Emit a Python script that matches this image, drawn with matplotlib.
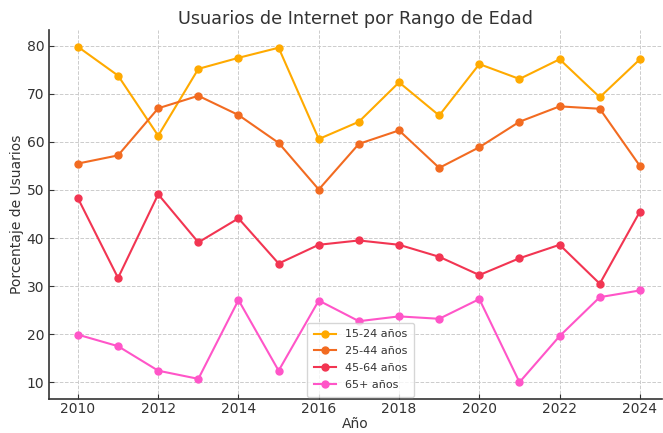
import matplotlib
matplotlib.use("Agg")
import matplotlib.pyplot as plt

years = list(range(2010, 2025))
g15_24 = [79.8, 73.8, 61.3, 75.2, 77.5, 79.6, 60.6, 64.2, 72.4, 65.5, 76.2, 73.1, 77.2, 69.3, 77.2]
g25_44 = [55.5, 57.2, 67.0, 69.6, 65.6, 59.8, 50.1, 59.6, 62.4, 54.6, 58.9, 64.2, 67.4, 66.9, 55.0]
g45_64 = [48.3, 31.7, 49.1, 39.1, 44.1, 34.7, 38.6, 39.5, 38.6, 36.1, 32.3, 35.8, 38.6, 30.5, 45.5]
g65 = [19.9, 17.5, 12.4, 10.7, 27.1, 12.4, 27.0, 22.7, 23.7, 23.2, 27.3, 10.0, 19.6, 27.7, 29.1]

labels = ['15-24 años', '25-44 años', '45-64 años', '65+ años']
colors = ['#FFAA00', '#F26B21', '#F23552', '#FF55C8']
series = [g15_24, g25_44, g45_64, g65]

text_color = '#333333'
plt.rcParams['text.color'] = text_color
plt.rcParams['axes.labelcolor'] = text_color
plt.rcParams['xtick.color'] = text_color
plt.rcParams['ytick.color'] = text_color

fig = plt.figure(figsize=(6.63, 4.33), dpi=100)
ax = fig.add_axes([49 / 663, 34 / 433, 613 / 663, 369 / 433])

for vals, lab, col in zip(series, labels, colors):
    ax.plot(years, vals, marker='o', markersize=5, linewidth=1.5, color=col, label=lab)

ax.set_xlim(2009.28, 2024.55)
ax.set_xticks(range(2010, 2025, 2))
ax.set_yticks(range(10, 90, 10))

ax.grid(True, linestyle='--', color='#cccccc', linewidth=0.7)
ax.set_axisbelow(True)
for side in ['top', 'right']:
    ax.spines[side].set_visible(False)
for side in ['left', 'bottom']:
    ax.spines[side].set_color(text_color)
    ax.spines[side].set_linewidth(1.2)
ax.tick_params(direction='in', labelsize=10)
ax.tick_params(axis='x', pad=2)

ax.set_title('Usuarios de Internet por Rango de Edad', fontsize=12.7, pad=4)
ax.set_xlabel('Año', fontsize=10, labelpad=1)
ax.set_ylabel('Porcentaje de Usuarios', fontsize=10, labelpad=2)
ax.legend(loc='lower center', bbox_to_anchor=(0.508, 0.0), fontsize=8,
          borderaxespad=0.2, labelspacing=0.62, borderpad=0.6)

fig.savefig('out.png', dpi=100)
